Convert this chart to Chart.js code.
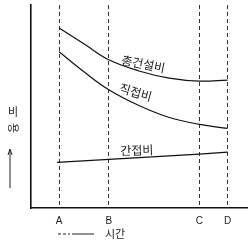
<!DOCTYPE html>
<html>
<head>
<meta charset="utf-8">
<script src="https://cdn.jsdelivr.net/npm/chart.js@4.4.1/dist/chart.umd.min.js"></script>
<style>
html,body{margin:0;padding:0;background:#fff;}
#wrap{width:251px;height:246px;}
</style>
</head>
<body>
<div id="wrap"><canvas id="c" width="251" height="246"></canvas></div>
<script>
// tick labels on the time axis and their positions (time units)
const tickLabels = ['A', 'B', 'C', 'D'];
const tickValues = [13, 36, 78, 91];

// curve sample times
const curveTimes = [13, 25, 36, 50, 64, 78, 91];
const totalCost  = [88.7, 80.5, 73, 67.5, 64, 62.5, 63];
const directCost = [77, 66.7, 58.3, 50.5, 44.6, 41.2, 39.2];

const indirectTimes = [12, 36, 78, 91];
const indirectCost  = [22.5, 24, 26.5, 27.5];

const seriesNames = ['총건설비', '직접비', '간접비'];

function pts(xs, ys){ return xs.map((x,i)=>({x:x, y:ys[i]})); }

const labelPlugin = {
  id: 'labels',
  afterDraw(chart){
    const {ctx, scales:{x, y}} = chart;
    ctx.save();
    ctx.fillStyle = '#222';
    ctx.font = '12px "Noto Sans CJK KR"';
    ctx.textAlign = 'center';
    ctx.textBaseline = 'middle';
    const put = (txt, xv, yv, ang) => {
      ctx.save();
      ctx.translate(x.getPixelForValue(xv), y.getPixelForValue(yv));
      ctx.rotate(ang*Math.PI/180);
      ctx.fillText(txt, 0, 0);
      ctx.restore();
    };
    put(seriesNames[0], 52, 71, 11);
    put(seriesNames[1], 48.5, 57, 16);
    put(seriesNames[2], 49, 28.5, -2);

    // y axis title
    ctx.font = '11px "Noto Sans CJK KR"';
    ctx.fillText('비', 13, 112);
    ctx.save();
    ctx.translate(13, 128);
    ctx.rotate(Math.PI/2);
    ctx.fillText('용', 0, 0);
    ctx.restore();
    ctx.strokeStyle = '#222';
    ctx.lineWidth = 1;
    ctx.beginPath();
    ctx.moveTo(10, 188); ctx.lineTo(10, 150); ctx.stroke();
    ctx.beginPath();
    ctx.moveTo(8, 155); ctx.lineTo(10, 149); ctx.lineTo(12, 155); ctx.stroke();

    // x axis title
    ctx.beginPath();
    ctx.setLineDash([3,2]);
    ctx.moveTo(58, 234); ctx.lineTo(70, 234); ctx.stroke();
    ctx.setLineDash([]);
    ctx.beginPath();
    ctx.moveTo(72, 234); ctx.lineTo(94, 234); ctx.stroke();
    ctx.fillText('시간', 115, 234);
    ctx.restore();
  }
};

new Chart(document.getElementById('c'), {
  type: 'scatter',
  data: {
    datasets: [
      { label: seriesNames[0], data: pts(curveTimes, totalCost), showLine: true,
        borderColor: '#111', borderWidth: 1.2, pointRadius: 0, tension: 0.4 },
      { label: seriesNames[1], data: pts(curveTimes, directCost), showLine: true,
        borderColor: '#111', borderWidth: 1.2, pointRadius: 0, tension: 0.4 },
      { label: seriesNames[2], data: pts(indirectTimes, indirectCost), showLine: true,
        borderColor: '#111', borderWidth: 1.2, pointRadius: 0, tension: 0 }
    ]
  },
  options: {
    responsive: false,
    animation: false,
    devicePixelRatio: 1,
    layout: { padding: { left: 31, right: 4, top: 5, bottom: 12 } },
    plugins: { legend: { display: false }, tooltip: { enabled: false } },
    scales: {
      x: {
        type: 'linear', min: 0, max: 100,
        afterBuildTicks: (s) => { s.ticks = tickValues.map(v => ({ value: v })); },
        ticks: {
          callback: (v) => tickLabels[tickValues.indexOf(v)],
          font: { family: 'Liberation Sans', size: 10 }, color: '#222', padding: 7,
          maxRotation: 0, autoSkip: false
        },
        grid: { display: true, drawTicks: false, color: '#333', lineWidth: 1 },
        border: { display: true, color: '#111', width: 1.6, dash: [4, 3] }
      },
      y: {
        type: 'linear', min: 0, max: 100,
        ticks: { display: false },
        grid: { display: false, drawTicks: false },
        border: { display: true, color: '#111', width: 1.6 }
      }
    }
  },
  plugins: [labelPlugin]
});
</script>
</body>
</html>
